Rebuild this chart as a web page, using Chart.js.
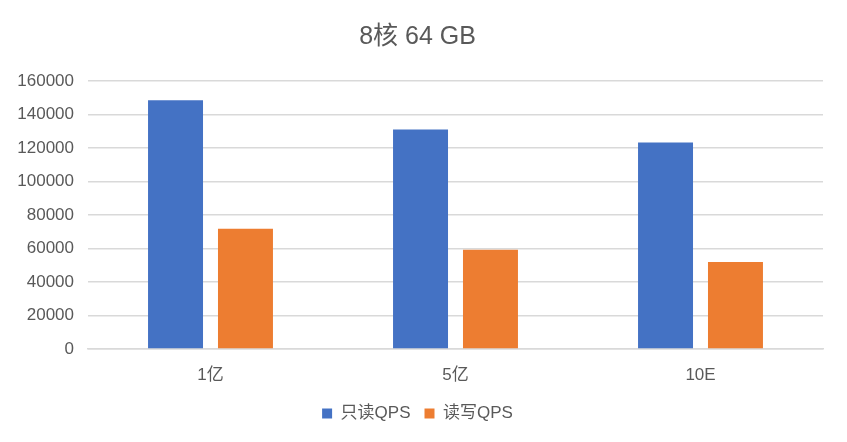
<!DOCTYPE html>
<html>
<head>
<meta charset="utf-8">
<script src="https://cdn.jsdelivr.net/npm/chart.js@4/dist/chart.umd.min.js"></script>
<style>
  html, body { margin: 0; padding: 0; background: #fff; }
  #wrap { width: 847px; height: 442px; }
</style>
</head>
<body>
<div id="wrap"><canvas id="qpsChart" width="847" height="442"></canvas></div>
<script>
// chart data
const categories = ['1亿', '5亿', '10E'];
const readOnlyQps = [148500, 131100, 123300];
const readWriteQps = [71800, 59200, 52000];
const yTicks = [0, 20000, 40000, 60000, 80000, 100000, 120000, 140000, 160000];

const textColor = '#595959';
const fontFamily = '"Liberation Sans", "Noto Sans CJK SC", sans-serif';

const ctx = document.getElementById('qpsChart').getContext('2d');
new Chart(ctx, {
    type: 'bar',
    data: {
        labels: categories,
        datasets: [{
            label: '只读QPS',
            data: readOnlyQps,
            backgroundColor: '#4472c4',
            categoryPercentage: 0.571,
            barPercentage: 0.786
        }, {
            label: '读写QPS',
            data: readWriteQps,
            backgroundColor: '#ed7d31',
            categoryPercentage: 0.571,
            barPercentage: 0.786
        }]
    },
    options: {
        responsive: false,
        animation: false,
        // symmetric side padding keeps title and legend centred on the canvas
        layout: {
            padding: { left: 12, right: 24, top: 0, bottom: 10 }
        },
        plugins: {
            title: {
                display: true,
                text: '8核 64 GB',
                color: textColor,
                font: { family: fontFamily, size: 25, weight: 'normal' },
                padding: { top: 22, bottom: 29 }
            },
            legend: {
                position: 'bottom',
                labels: {
                    color: textColor,
                    font: { family: fontFamily, size: 17 },
                    usePointStyle: true,
                    pointStyle: 'rect',
                    boxWidth: 10,
                    boxHeight: 10,
                    padding: 14
                }
            },
            tooltip: { enabled: false }
        },
        scales: {
            x: {
                afterFit: axis => { axis.height = 42; },
                grid: { display: false, drawTicks: false },
                border: { color: '#d9d9d9', width: 1.5 },
                ticks: {
                    color: textColor,
                    font: { family: fontFamily, size: 17 },
                    padding: 16
                }
            },
            y: {
                min: 0,
                max: 160000,
                afterBuildTicks: axis => {
                    axis.ticks = yTicks.map(v => ({ value: v }));
                },
                afterFit: axis => { axis.width = 76; },
                grid: { color: '#d9d9d9', lineWidth: 1.5, drawTicks: false },
                border: { display: false },
                ticks: {
                    color: textColor,
                    font: { family: fontFamily, size: 17 },
                    padding: 14,
                    callback: v => String(v)
                }
            }
        }
    }
});
</script>
</body>
</html>
